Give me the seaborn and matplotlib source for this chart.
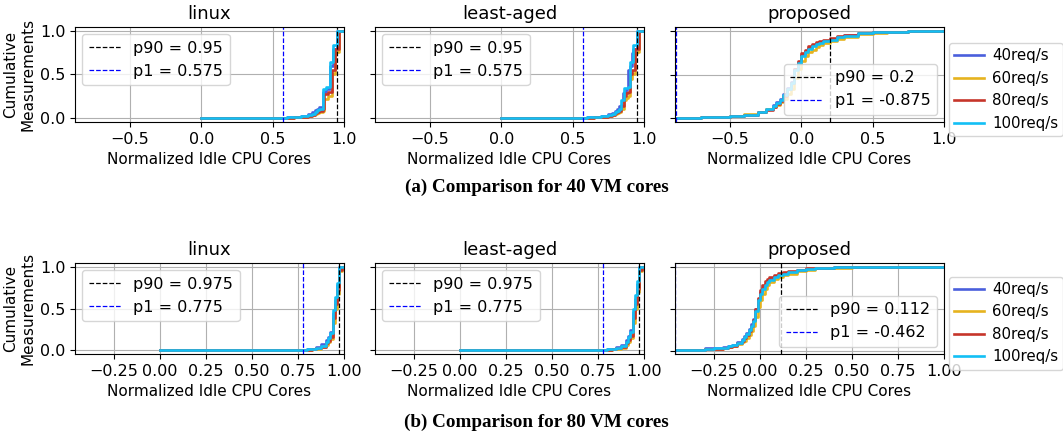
import pandas as pd
import matplotlib
matplotlib.use("Agg")
import matplotlib.pyplot as plt
import seaborn as sns

# --- series / labels ---
LOADS = ["40req/s", "60req/s", "80req/s", "100req/s"]
COLORS = ["#4a5fdc", "#e6b31e", "#c6352a", "#12bff5"]
PANELS = ["linux", "least-aged", "proposed"]

# --- (a) 40 VM cores ---
LIN40_X = [0.0, 0.55, 0.6, 0.65, 0.7, 0.75, 0.775, 0.8, 0.8125, 0.825, 0.8375, 0.85,
           0.8625, 0.875, 0.8875, 0.9, 0.9125, 0.925, 0.9375, 0.95, 0.9625, 0.975, 1.0]
LIN40_40 = [0, 0, 0.004, 0.01, 0.02, 0.045, 0.06, 0.09, 0.1, 0.12, 0.12, 0.3,
            0.3, 0.33, 0.33, 0.6, 0.6, 0.8, 0.8, 1.0, 1.0, 1.0, 1.0]
LIN40_60 = [0, 0, 0.001, 0.004, 0.009, 0.02, 0.03, 0.045, 0.05, 0.06, 0.06, 0.08,
            0.22, 0.22, 0.25, 0.25, 0.5, 0.5, 0.76, 0.76, 1.0, 1.0, 1.0]
LIN40_80 = [0, 0, 0.002, 0.006, 0.012, 0.025, 0.035, 0.055, 0.065, 0.08, 0.08, 0.1,
            0.27, 0.27, 0.3, 0.3, 0.55, 0.55, 0.8, 0.8, 1.0, 1.0, 1.0]
LIN40_100 = [0, 0, 0.003, 0.008, 0.015, 0.03, 0.045, 0.07, 0.085, 0.1, 0.1, 0.33,
             0.33, 0.36, 0.36, 0.64, 0.64, 0.84, 0.84, 1.0, 1.0, 1.0, 1.0]

LEA40_X = LIN40_X
LEA40_40 = [0, 0, 0.004, 0.01, 0.02, 0.04, 0.055, 0.08, 0.1, 0.13, 0.15, 0.28,
            0.3, 0.33, 0.55, 0.6, 0.75, 0.8, 0.8, 1.0, 1.0, 1.0, 1.0]
LEA40_60 = [0, 0, 0.001, 0.004, 0.008, 0.018, 0.028, 0.04, 0.05, 0.06, 0.1, 0.1,
            0.2, 0.23, 0.25, 0.45, 0.5, 0.5, 0.75, 0.76, 1.0, 1.0, 1.0]
LEA40_80 = [0, 0, 0.002, 0.006, 0.012, 0.025, 0.035, 0.05, 0.06, 0.08, 0.13, 0.13,
            0.25, 0.28, 0.3, 0.5, 0.55, 0.55, 0.8, 0.8, 1.0, 1.0, 1.0]
LEA40_100 = [0, 0, 0.003, 0.008, 0.015, 0.03, 0.045, 0.065, 0.08, 0.1, 0.2, 0.2,
             0.34, 0.34, 0.36, 0.64, 0.64, 0.84, 0.84, 1.0, 1.0, 1.0, 1.0]

PRO40_X = [-0.875, -0.7, -0.5, -0.4, -0.3, -0.25, -0.2, -0.175, -0.15, -0.125, -0.1,
           -0.075, -0.05, -0.025, 0.0, 0.025, 0.05, 0.075, 0.1, 0.125, 0.15, 0.2,
           0.25, 0.3, 0.4, 0.5, 0.6, 0.75, 1.0]
PRO40_40 = [0.006, 0.012, 0.022, 0.04, 0.07, 0.1, 0.15, 0.18, 0.22, 0.28, 0.35, 0.42,
            0.56, 0.65, 0.73, 0.77, 0.81, 0.84, 0.86, 0.875, 0.89, 0.91, 0.935, 0.955,
            0.978, 0.99, 0.996, 1.0, 1.0]
PRO40_60 = [0.004, 0.01, 0.025, 0.045, 0.075, 0.1, 0.13, 0.15, 0.18, 0.22, 0.28, 0.34,
            0.46, 0.56, 0.66, 0.71, 0.76, 0.79, 0.82, 0.845, 0.86, 0.885, 0.91, 0.935,
            0.965, 0.985, 0.993, 0.999, 1.0]
PRO40_80 = [0.005, 0.01, 0.02, 0.035, 0.065, 0.09, 0.13, 0.16, 0.2, 0.25, 0.33, 0.4,
            0.56, 0.66, 0.75, 0.79, 0.83, 0.855, 0.875, 0.89, 0.905, 0.925, 0.945,
            0.96, 0.98, 0.992, 0.997, 1.0, 1.0]
PRO40_100 = [0.005, 0.01, 0.02, 0.04, 0.07, 0.1, 0.14, 0.17, 0.21, 0.26, 0.34, 0.4,
             0.55, 0.63, 0.72, 0.76, 0.8, 0.83, 0.85, 0.87, 0.885, 0.905, 0.93, 0.95,
             0.975, 0.99, 0.995, 1.0, 1.0]

# --- (b) 80 VM cores ---
LIN80_X = [0.0, 0.7, 0.775, 0.8, 0.825, 0.85, 0.875, 0.9, 0.9125, 0.925, 0.9375,
           0.95, 0.9625, 0.975, 0.9875, 1.0]
LIN80_40 = [0, 0, 0.003, 0.008, 0.015, 0.035, 0.065, 0.12, 0.16, 0.22, 0.45, 0.6,
            0.78, 1.0, 1.0, 1.0]
LIN80_60 = [0, 0, 0.001, 0.003, 0.006, 0.015, 0.03, 0.06, 0.09, 0.13, 0.32, 0.5,
            0.68, 0.95, 1.0, 1.0]
LIN80_80 = [0, 0, 0.001, 0.004, 0.008, 0.02, 0.04, 0.08, 0.11, 0.16, 0.38, 0.55,
            0.72, 0.97, 1.0, 1.0]
LIN80_100 = [0, 0, 0.002, 0.005, 0.01, 0.025, 0.05, 0.1, 0.14, 0.2, 0.48, 0.64,
             0.81, 1.0, 1.0, 1.0]

LEA80_X = LIN80_X
LEA80_40 = [0, 0, 0.003, 0.007, 0.014, 0.03, 0.06, 0.12, 0.17, 0.24, 0.46, 0.62,
            0.8, 1.0, 1.0, 1.0]
LEA80_60 = [0, 0, 0.001, 0.003, 0.006, 0.014, 0.028, 0.06, 0.09, 0.14, 0.33, 0.5,
            0.7, 0.95, 1.0, 1.0]
LEA80_80 = [0, 0, 0.001, 0.004, 0.008, 0.018, 0.035, 0.08, 0.12, 0.17, 0.38, 0.56,
            0.74, 0.97, 1.0, 1.0]
LEA80_100 = [0, 0, 0.002, 0.005, 0.01, 0.022, 0.045, 0.1, 0.15, 0.22, 0.5, 0.66,
             0.83, 1.0, 1.0, 1.0]

PRO80_X = [-0.462, -0.3, -0.25, -0.2, -0.175, -0.15, -0.125, -0.1, -0.0875, -0.075,
           -0.0625, -0.05, -0.0375, -0.025, -0.0125, 0.0, 0.0125, 0.025, 0.0375, 0.05,
           0.075, 0.1, 0.125, 0.15, 0.2, 0.25, 0.3, 0.4, 0.5, 1.0]
PRO80_40 = [0.012, 0.025, 0.03, 0.04, 0.055, 0.07, 0.1, 0.14, 0.17, 0.21, 0.26, 0.32,
            0.38, 0.5, 0.62, 0.7, 0.75, 0.8, 0.83, 0.86, 0.89, 0.91, 0.93, 0.945,
            0.965, 0.98, 0.99, 0.997, 1.0, 1.0]
PRO80_60 = [0.008, 0.018, 0.022, 0.03, 0.04, 0.055, 0.075, 0.1, 0.12, 0.15, 0.19, 0.24,
            0.3, 0.4, 0.52, 0.6, 0.68, 0.74, 0.78, 0.82, 0.86, 0.88, 0.9, 0.92, 0.95,
            0.97, 0.985, 0.995, 1.0, 1.0]
PRO80_80 = [0.008, 0.018, 0.022, 0.032, 0.045, 0.06, 0.085, 0.12, 0.15, 0.19, 0.24,
            0.3, 0.37, 0.5, 0.63, 0.72, 0.78, 0.83, 0.86, 0.88, 0.91, 0.93, 0.945,
            0.955, 0.97, 0.985, 0.993, 0.998, 1.0, 1.0]
PRO80_100 = [0.01, 0.02, 0.025, 0.035, 0.05, 0.065, 0.09, 0.13, 0.16, 0.2, 0.25, 0.3,
             0.36, 0.48, 0.6, 0.68, 0.74, 0.79, 0.82, 0.85, 0.88, 0.9, 0.92, 0.94,
             0.96, 0.98, 0.99, 0.997, 1.0, 1.0]

# percentiles shown in legends
P90_40 = [0.95, 0.95, 0.2]
P1_40 = [0.575, 0.575, -0.875]
P90_80 = [0.975, 0.975, 0.112]
P1_80 = [0.775, 0.775, -0.462]

XTICKS_40 = [-0.5, 0.0, 0.5, 1.0]
XTICKS_80 = [-0.25, 0.0, 0.25, 0.5, 0.75, 1.0]
XTICKLABELS_40 = ["\u22120.5", "0.0", "0.5", "1.0"]
XTICKLABELS_80 = ["\u22120.25", "0.00", "0.25", "0.50", "0.75", "1.00"]

ROWS = [
    {"xs": [LIN40_X, LEA40_X, PRO40_X],
     "ys": [[LIN40_40, LIN40_60, LIN40_80, LIN40_100],
            [LEA40_40, LEA40_60, LEA40_80, LEA40_100],
            [PRO40_40, PRO40_60, PRO40_80, PRO40_100]],
     "p90": P90_40, "p1": P1_40, "xmin": -0.885,
     "ticks": XTICKS_40, "ticklabels": XTICKLABELS_40,
     "caption": "(a) Comparison for 40 VM cores"},
    {"xs": [LIN80_X, LEA80_X, PRO80_X],
     "ys": [[LIN80_40, LIN80_60, LIN80_80, LIN80_100],
            [LEA80_40, LEA80_60, LEA80_80, LEA80_100],
            [PRO80_40, PRO80_60, PRO80_80, PRO80_100]],
     "p90": P90_80, "p1": P1_80, "xmin": -0.462,
     "ticks": XTICKS_80, "ticklabels": XTICKLABELS_80,
     "caption": "(b) Comparison for 80 VM cores"},
]

plt.rcParams.update({"font.size": 11, "axes.titlesize": 13,
                     "xtick.labelsize": 11.5, "ytick.labelsize": 11.5,
                     "legend.fontsize": 11.5})

W, H = 1063, 436
fig = plt.figure(figsize=(W / 100, H / 100), dpi=100)

COL_LEFT = [75, 375, 675]
COL_W = 269
ROW_TOP = [27, 263]
ROW_H = [95, 91]
CAPTION_Y = [187, 422]


def draw_panel(ax, x, ys, p90, p1, loc):
    df = pd.concat([pd.DataFrame({"x": x, "y": y, "load": lab})
                    for y, lab in zip(ys, LOADS)], ignore_index=True)
    sns.lineplot(data=df, x="x", y="y", hue="load", hue_order=LOADS,
                 palette=COLORS, drawstyle="steps-post", linewidth=1.9,
                 estimator=None, errorbar=None, legend=False, ax=ax)
    h1 = ax.axvline(p90, color="black", linestyle="--", linewidth=0.9,
                    label=f"p90 = {p90}")
    h2 = ax.axvline(p1, color="blue", linestyle="--", linewidth=0.9,
                    label=f"p1 = {p1}")
    ax.legend(handles=[h1, h2], loc=loc, borderaxespad=0.45)


for r, row in enumerate(ROWS):
    for c in range(3):
        left = COL_LEFT[c] / W
        bottom = 1 - (ROW_TOP[r] + ROW_H[r]) / H
        ax = fig.add_axes([left, bottom, COL_W / W, ROW_H[r] / H])
        loc = "lower right" if c == 2 else "upper left"
        draw_panel(ax, row["xs"][c], row["ys"][c], row["p90"][c], row["p1"][c], loc)
        ax.set_xlim(row["xmin"], 1.0)
        ax.set_xticks(row["ticks"], row["ticklabels"])
        ax.set_yticks([0.0, 0.5, 1.0])
        ax.grid(True, color="#b0b0b0", linewidth=0.8)
        ax.set_axisbelow(True)
        ax.set_title(PANELS[c])
        ax.set_xlabel("Normalized Idle CPU Cores", fontsize=11)
        if c == 0:
            ax.set_ylabel("Cumulative\nMeasurements", fontsize=11, labelpad=3)
        else:
            ax.set_ylabel("")
            ax.tick_params(labelleft=False)
        if c == 2:
            p_leg = ax.get_legend()
            lines = ax.get_lines()[:4]
            ax.legend(lines, LOADS, loc="center left", bbox_to_anchor=(1.0, 0.34),
                      borderaxespad=0.3, fontsize=10.8, handletextpad=0.55,
                      borderpad=0.35)
            ax.add_artist(p_leg)
    fig.text(0.505, 1 - CAPTION_Y[r] / H, row["caption"], ha="center", va="center",
             fontsize=13.8, fontweight="bold", family="Liberation Serif")

fig.savefig("out.png", dpi=100)
